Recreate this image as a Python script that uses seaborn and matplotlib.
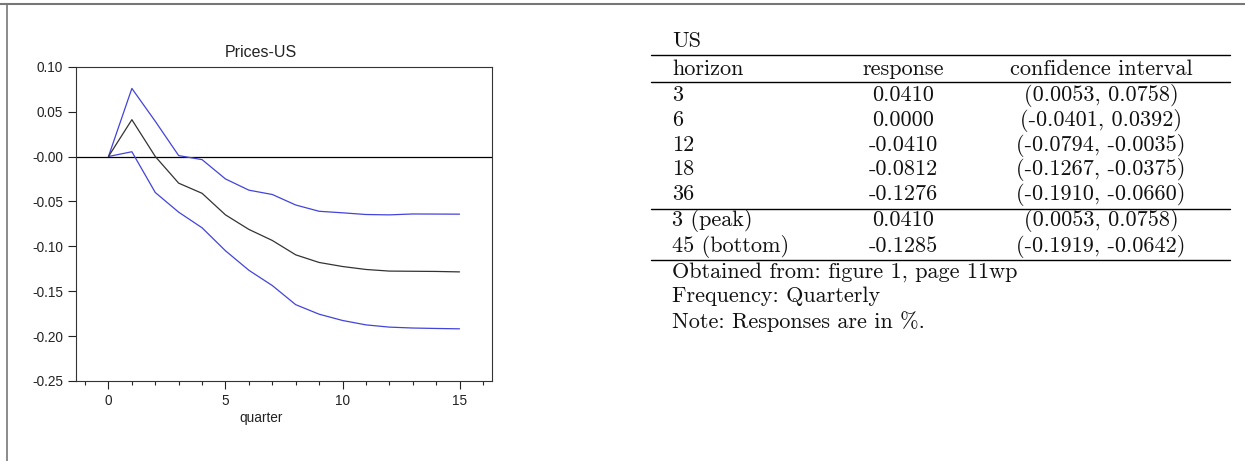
import numpy as np
import pandas as pd
import matplotlib
matplotlib.use("Agg")
import matplotlib.pyplot as plt
from matplotlib.lines import Line2D
from matplotlib.ticker import MultipleLocator
import seaborn as sns

# ============================
# data
# ============================
quarters = list(range(16))
response = [0.0, 0.0410, 0.0000, -0.0297, -0.0410, -0.0650, -0.0812, -0.0935,
            -0.1095, -0.1180, -0.1225, -0.1258, -0.1276, -0.1278, -0.1280, -0.1285]
upper = [0.0, 0.0758, 0.0392, 0.0010, -0.0035, -0.0250, -0.0375, -0.0423,
         -0.0540, -0.0610, -0.0627, -0.0646, -0.0650, -0.0640, -0.0641, -0.0642]
lower = [0.0, 0.0053, -0.0401, -0.0620, -0.0794, -0.1050, -0.1267, -0.1437,
         -0.1650, -0.1756, -0.1826, -0.1875, -0.1900, -0.1910, -0.1915, -0.1919]

ytick_values = [0.10, 0.05, 0.0, -0.05, -0.10, -0.15, -0.20, -0.25]
ytick_labels = ["0.10", "0.05", "-0.00", "-0.05", "-0.10", "-0.15", "-0.20", "-0.25"]

tab_horizon = ["3", "6", "12", "18", "36"]
tab_response = [0.0410, 0.0000, -0.0410, -0.0812, -0.1276]
tab_ci_lo = [0.0053, -0.0401, -0.0794, -0.1267, -0.1910]
tab_ci_hi = [0.0758, 0.0392, -0.0035, -0.0375, -0.0660]
extra_horizon = ["3 (peak)", "45 (bottom)"]
extra_response = [0.0410, -0.1285]
extra_ci_lo = [0.0053, -0.1919]
extra_ci_hi = [0.0758, -0.0642]
notes = ["Obtained from: figure 1, page 11wp",
         "Frequency: Quarterly",
         "Note: Responses are in %."]

# ============================
# figure
# ============================
sns.set_style("ticks")
plt.rcParams["font.family"] = ["Liberation Sans", "DejaVu Sans"]

W, H = 1245, 461
fig = plt.figure(figsize=(W / 100, H / 100), dpi=100)


def fx(px):
    return px / W


def fy(py):
    return 1 - py / H


ax = fig.add_axes([fx(75.7), fy(381), fx(492.3) - fx(75.7), fy(66.7) - fy(381)])

df = pd.DataFrame({"quarter": quarters, "response": response,
                   "upper": upper, "lower": lower})
blue = "#4343dd"
sns.lineplot(data=df, x="quarter", y="upper", color=blue, lw=0.9, ax=ax)
sns.lineplot(data=df, x="quarter", y="lower", color=blue, lw=0.9, ax=ax)
sns.lineplot(data=df, x="quarter", y="response", color="#333333", lw=0.9, ax=ax)
ax.axhline(0, color="black", lw=0.9, zorder=0)

ax.set_xlim(-1.4, 16.4)
ax.set_ylim(-0.25, 0.10)
ax.set_yticks(ytick_values)
ax.set_yticklabels(ytick_labels)
ax.set_xticks([0, 5, 10, 15])
ax.xaxis.set_minor_locator(MultipleLocator(1))
ax.set_xlabel("")
ax.set_ylabel("")
for s in ax.spines.values():
    s.set_visible(True)
    s.set_linewidth(0.8)
    s.set_color("#333333")
ax.tick_params(axis="both", which="major", direction="out", length=5.5,
               width=0.8, labelsize=9.8, colors="#222222")
ax.tick_params(axis="x", which="minor", direction="out", length=3, width=0.8)
ax.tick_params(axis="x", pad=4)

fig.text(fx(261), fy(56.7), "Prices-US", ha="center", va="baseline",
         fontsize=11.5, color="#222222")
fig.text(fx(261), fy(422), "quarter", ha="center", va="baseline",
         fontsize=9.8, color="#222222")

# outer frame (top and left edges)
fig.add_artist(Line2D([0, 1], [fy(4.5), fy(4.5)], transform=fig.transFigure,
                      color="#777777", lw=1.5))
fig.add_artist(Line2D([fx(6.5), fx(6.5)], [0, fy(4.5)], transform=fig.transFigure,
                      color="#777777", lw=1.2))

# ============================
# table
# ============================
serif = ["cmr10", "DejaVu Serif"]
tfs = 16
x_left, x_resp, x_ci = 672, 903, 1101
rule_l, rule_r = 651, 1230


def ttext(x, y, s, ha="left"):
    fig.text(fx(x), fy(y), s, ha=ha, va="baseline", fontsize=tfs,
             family=serif, color="#111111")


def rule(y):
    fig.add_artist(Line2D([fx(rule_l), fx(rule_r)], [fy(y), fy(y)],
                          transform=fig.transFigure, color="black", lw=1.0))


ttext(x_left, 47, "US")
rule(54.7)
ttext(x_left, 75, "horizon")
ttext(x_resp, 75, "response", ha="center")
ttext(x_ci, 75, "confidence interval", ha="center")
rule(81.7)

row_h = 24.8
y0 = 101
for i, (h, r, lo, hi) in enumerate(zip(tab_horizon, tab_response, tab_ci_lo, tab_ci_hi)):
    y = y0 + i * row_h
    ttext(x_left, y, h)
    ttext(x_resp, y, f"{r:.4f}", ha="center")
    ttext(x_ci, y, f"({lo:.4f}, {hi:.4f})", ha="center")
rule(209)

y1 = 226.5
for i, (h, r, lo, hi) in enumerate(zip(extra_horizon, extra_response, extra_ci_lo, extra_ci_hi)):
    y = y1 + i * 25
    ttext(x_left, y, h)
    ttext(x_resp, y, f"{r:.4f}", ha="center")
    ttext(x_ci, y, f"({lo:.4f}, {hi:.4f})", ha="center")
rule(260)

for i, n in enumerate(notes):
    ttext(x_left, 277.5 + i * 25, n)

fig.savefig("out.png", dpi=100)
